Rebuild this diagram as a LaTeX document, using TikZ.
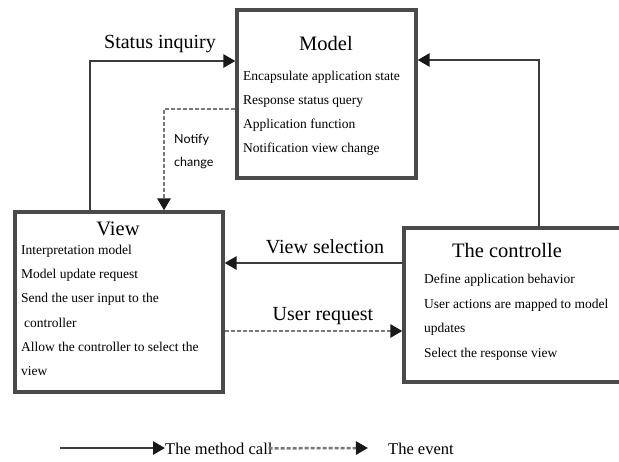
\documentclass[tikz,border=0pt]{standalone}
\usepackage{fontspec}
\setmainfont{Liberation Serif}
\newfontfamily\mvcserif{Liberation Serif}
\newfontfamily\mvcsans{Lato}
\usetikzlibrary{arrows.meta,calc}
\definecolor{boxline}{HTML}{4A4A4A}
\definecolor{callline}{HTML}{3C3C3C}
\definecolor{eventline}{HTML}{787878}
\tikzset{
  box/.style={draw=boxline, line width=3.2pt, fill=white, rectangle, inner sep=0pt},
  call/.style={draw=callline, line width=2.5pt, -{Triangle[length=12pt,width=13pt,color=black!90]}},
  event/.style={draw=eventline, line width=2.5pt, dash pattern=on 4pt off 2pt, -{Triangle[length=12pt,width=13pt,color=black!90]}},
  titletext/.style={anchor=base, inner sep=0pt, font=\mvcserif\fontsize{20.5}{24}\selectfont},
  bodytext/.style={anchor=base west, inner sep=0pt, font=\mvcserif\fontsize{13.5}{16}\selectfont},
  linklabel/.style={anchor=base, inner sep=0pt, font=\mvcserif\fontsize{20}{24}\selectfont},
  notetext/.style={anchor=base west, inner sep=0pt, font=\mvcsans\fontsize{12.5}{15}\selectfont},
  legendtext/.style={anchor=base west, inner sep=0pt, font=\mvcserif\fontsize{16.5}{20}\selectfont}
}
\begin{document}
\begin{tikzpicture}[x=1pt,y=-1pt]
\useasboundingbox (0,0) rectangle (619,461);
\fill[white] (0,0) rectangle (619,461);

% boxes
\node[box, minimum width=179pt, minimum height=168pt] (model) at (326.5,94) {};
\node[box, minimum width=208pt, minimum height=180pt] (view) at (119,302) {};
\node[box, minimum width=220pt, minimum height=154pt] (ctrl) at (514,305) {};

% model text
\node[titletext] (mt) at (326,50) {Model};
\node[bodytext] (m1) at (243,80) {Encapsulate application state};
\node[bodytext] (m2) at (243,104) {Response status query};
\node[bodytext] (m3) at (243,128) {Application function};
\node[bodytext] (m4) at (243,152) {Notification view change};

% view text
\node[titletext] (vt) at (118,235) {View};
\node[bodytext] (v1) at (21,254) {Interpretation model};
\node[bodytext] (v2) at (21,278) {Model update request};
\node[bodytext] (v3) at (21,302) {Send the user input to the};
\node[bodytext] (v4) at (24,327) {controller};
\node[bodytext] (v5) at (21,351) {Allow the controller to select the};
\node[bodytext] (v6) at (21,375) {view};

% controller text
\node[titletext] (ct) at (507,257) {The controlle};
\node[bodytext] (c1) at (424,283) {Define application behavior};
\node[bodytext] (c2) at (424,308) {User actions are mapped to model};
\node[bodytext] (c3) at (424,332) {updates};
\node[bodytext] (c4) at (424,357) {Select the response view};

% connectors
\coordinate (sicorner) at (90,61);
\draw[call] (view.north -| sicorner) -- (sicorner) -- (model.west |- sicorner);
\node[linklabel] (silab) at (160,48) {Status inquiry};

\coordinate (cmcorner) at (539,60);
\draw[call] (ctrl.north -| cmcorner) -- (cmcorner) -- (model.east |- cmcorner);

\coordinate (nccorner) at (164,109);
\draw[event] (model.west |- nccorner) -- (nccorner) -- (view.north -| nccorner);
\node[notetext] (nc1) at (174,143) {Notify};
\node[notetext] (nc2) at (174,166) {change};

\coordinate (vsy) at (0,263);
\draw[call] (ctrl.west |- vsy) -- (view.east |- vsy);
\node[linklabel] (vslab) at (325,253) {View selection};

\coordinate (ury) at (0,331);
\draw[event] (view.east |- ury) -- (ctrl.west |- ury);
\node[linklabel] (urlab) at (323,320) {User request};

% legend
\coordinate (lstart) at (60,448);
\node[legendtext] (mcall) at (165,454) {The method call};
\node[legendtext] (evt) at (388,454) {The event};
\draw[call] (lstart) -- (lstart -| mcall.west);
\draw[event] ($(mcall.east)+(-4,0)$ |- lstart) -- ($(evt.west |- lstart)+(-20,0)$);
\end{tikzpicture}
\end{document}
